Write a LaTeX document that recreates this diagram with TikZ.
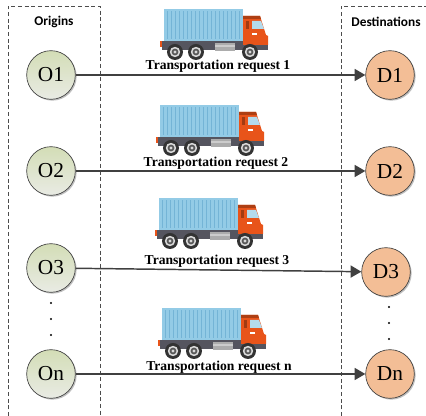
\documentclass[tikz,border=0pt]{standalone}
\usepackage{fontspec}
\setmainfont{Liberation Serif}
\setsansfont{Carlito}
\usetikzlibrary{arrows.meta,shadows}
\definecolor{contblue}{HTML}{93CBE6}
\definecolor{contdark}{HTML}{74B4D6}
\definecolor{cabred}{HTML}{E8541A}
\definecolor{chassis}{HTML}{55555F}
\definecolor{origtop}{HTML}{D3DDB6}
\definecolor{origbot}{HTML}{E9EBE4}
\definecolor{destfill}{HTML}{F3BE96}
\tikzset{
  x=0.75pt,y=-0.75pt,
  place/.style={circle,draw=black!75,line width=0.5pt,minimum size=36.5pt,inner sep=0pt,font=\fontsize{16}{16}\selectfont,
    drop shadow={shadow xshift=1pt,shadow yshift=-1pt,opacity=.25,fill=black}},
  orig/.style={place,top color=origtop,bottom color=origbot},
  dest/.style={place,fill=destfill},
  req/.style={-{Triangle[length=8pt,width=9pt]},draw=black!75,line width=1.1pt},
  zone/.style={draw=black!70,densely dashed,line width=0.5pt},
  head/.style={font=\sffamily\bfseries\fontsize{10}{10}\selectfont,inner sep=0pt},
  lab/.style={font=\bfseries\fontsize{10.2}{10}\selectfont,inner sep=0pt},
  dots/.style={circle,fill=black,inner sep=0pt,minimum size=1.6pt},
  pics/truck/.style={code={
    \fill[contblue] (2,0) rectangle (81,32);
    \foreach \i in {0,...,18}{\fill[contdark] (5+4*\i,2) rectangle (6.3+4*\i,30);}
    \fill[cabred] (-2,32) rectangle (0,38);
    \fill[chassis] (0,32) rectangle (81,41);
    \fill[chassis] (81,36) rectangle (106,41);
    \fill[gray!65] (53,34) rectangle (73,42);
    \fill[gray!40] (53,36) rectangle (73,38);
    \fill[cabred] (81,36) -- (81,7) -- (98,7) -- (104,26) -- (106,27) -- (106,36) -- cycle;
    \fill[cabred!75!black] (81,7) -- (98,7) -- (99,10) -- (81,10) -- cycle;
    \fill[cabred!70!black] (84,12) rectangle (87,20);
    \fill[contblue!70!white] (90,12) -- (99,12) -- (102,20) -- (90,20) -- cycle;
    \fill[white] (90,24.5) rectangle (95,26);
    \foreach \w in {13,34,88}{
      \fill[black!80] (\w,43) circle[radius=8];
      \fill[white!85!black] (\w,43) circle[radius=5.2];
      \fill[black!65] (\w,43) circle[radius=3.4];
      \fill[white!85!black] (\w,43) circle[radius=1.7];
    }
  }}
}
\begin{document}
\begin{tikzpicture}
\useasboundingbox (0,0) rectangle (426,416);
\draw[zone] (8,416) -- (8,6) -- (100,6) -- (100,416);
\draw[zone] (341,416) -- (341,6) -- (426,6);
\node[head] (ho) at (54,22) {Origins};
\node[head] (hd) at (386,22) {Destinations};
\pic at (162,9) {truck};
\pic at (158,105) {truck};
\pic at (157,198) {truck};
\pic at (160,308) {truck};
\node[orig] (O1) at (51,75) {O1};
\node[orig] (O2) at (51,171) {O2};
\node[orig] (O3) at (51,268) {O3};
\node[orig] (On) at (51,374) {On};
\node[dest] (D1) at (390,75) {D1};
\node[dest] (D2) at (390,171) {D2};
\node[dest] (D3) at (386,272) {D3};
\node[dest] (Dn) at (390,374) {Dn};
\draw[req] (O1) -- (D1);
\draw[req] (O2) -- (D2);
\draw[req] (O3) -- (D3);
\draw[req] (On) -- (Dn);
\node[lab] (t1) at (218,66) {Transportation request 1};
\node[lab] (t2) at (216,163) {Transportation request 2};
\node[lab] (t3) at (217,261) {Transportation request 3};
\node[lab] (t4) at (219,367) {Transportation request n};
\foreach \y in {303,319,335} \node[dots] (a\y) at (51,\y) {};
\foreach \y in {307,323,339} \node[dots] (b\y) at (389,\y) {};
\end{tikzpicture}
\end{document}
